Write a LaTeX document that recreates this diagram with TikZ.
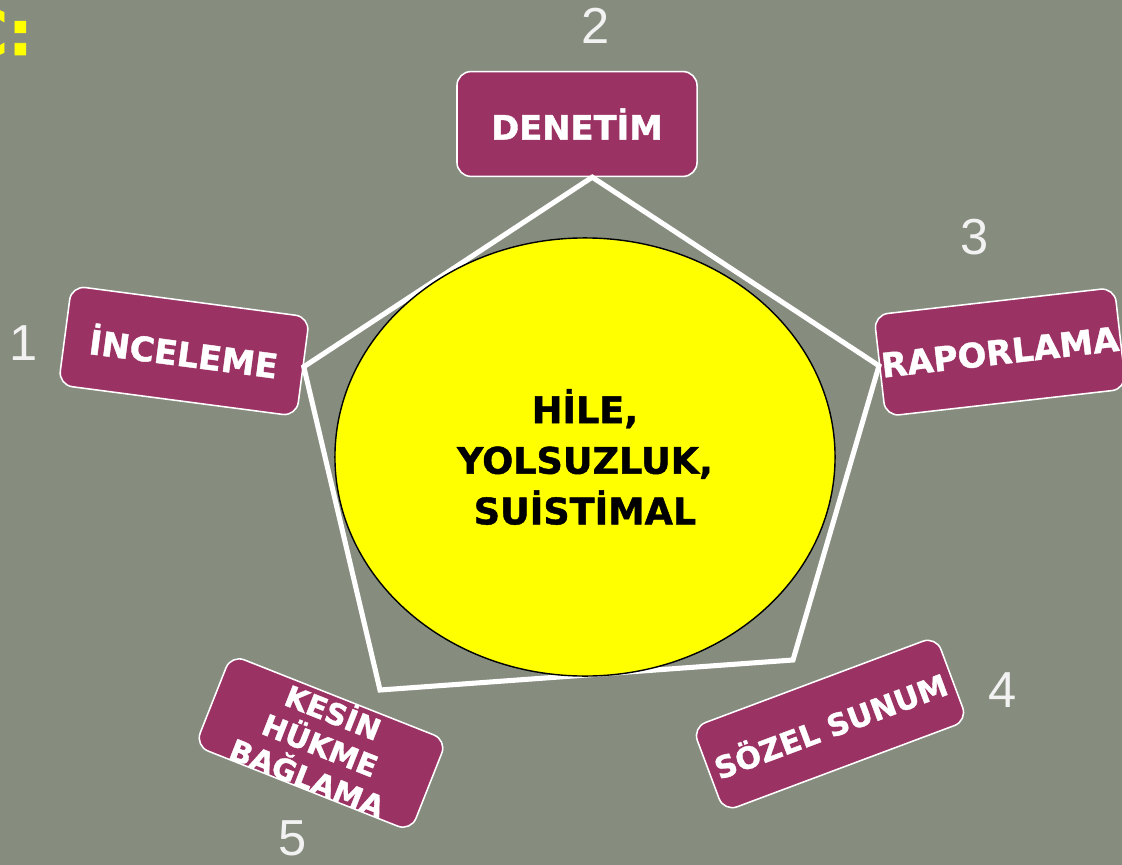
\documentclass[tikz,border=0pt]{standalone}
\usepackage{fontspec}
\setmainfont{DejaVu Sans}[BoldFeatures={FakeBold=1.2}]
\newfontfamily\digitfont{Liberation Sans}
\usepackage{tikz}
\usetikzlibrary{shapes.geometric}

\definecolor{slate}{RGB}{134,141,127}
\definecolor{plum}{RGB}{155,50,100}
\definecolor{lemon}{RGB}{255,255,0}

\begin{document}
\begin{tikzpicture}[x=0.025cm,y=-0.025cm,
    stage/.style={draw=white,line width=1.1pt,fill=plum,text=white,
      rounded corners=0.35cm,inner sep=0pt,align=center,
      font=\bfseries\fontsize{24}{28}\selectfont},
    rank/.style={text=white!95!black,inner sep=0pt,
      font=\digitfont\fontsize{36}{40}\selectfont},
    rim/.style={draw=white,line width=3.6pt}]
    \useasboundingbox (0,0) rectangle (1122,865);
    \clip (0,0) rectangle (1122,865);
    \fill[slate] (0,0) rectangle (1122,865);

    \node[text=lemon,inner sep=0pt,anchor=base east,
        font=\bfseries\fontsize{44}{48}\selectfont] (head) at (33,55) {C:};

    \node[stage,minimum width=6cm,minimum height=2.62cm] (denetim)
        at (577,124) {DENETİM};
    \node[stage,minimum width=6cm,minimum height=2.5cm,rotate=-7.5] (inceleme)
        at (184,351) {İNCELEME};
    \node[stage,minimum width=6.05cm,minimum height=2.55cm,rotate=6.5] (raporlama)
        at (1000,352) {RAPORLAMA};
    \node[stage,minimum width=6.5cm,minimum height=2.25cm,rotate=20.5,
        font=\bfseries\fontsize{21.5}{26}\selectfont] (sozel)
        at (830,724) {SÖZEL SUNUM};
    \node[stage,minimum width=5.8cm,minimum height=2.35cm,rotate=-21.6,
        font=\bfseries\fontsize{21}{25}\selectfont] (kesin)
        at (321,743) {KESİN\\HÜKME\\BAĞLAMA};

    \coordinate (turn4) at (793,660);
    \coordinate (turn5) at (380,690);
    \draw[rim] (inceleme.east) -- (denetim.-74) -- (raporlama.west)
        -- (turn4) -- (turn5) -- cycle;

    \node[ellipse,draw=black,line width=1pt,fill=lemon,inner sep=0pt,
        minimum width=12.5cm,minimum height=10.95cm,align=center,
        font=\bfseries\fontsize{26}{36}\selectfont] (core)
        at (585,457) {HİLE,\\YOLSUZLUK,\\SUİSTİMAL};

    \node[rank] (n1) at (24,343) {1};
    \node[rank] (n2) at (596,26) {2};
    \node[rank] (n3) at (975,237) {3};
    \node[rank] (n4) at (1003,690) {4};
    \node[rank] (n5) at (293,838) {5};
\end{tikzpicture}
\end{document}
